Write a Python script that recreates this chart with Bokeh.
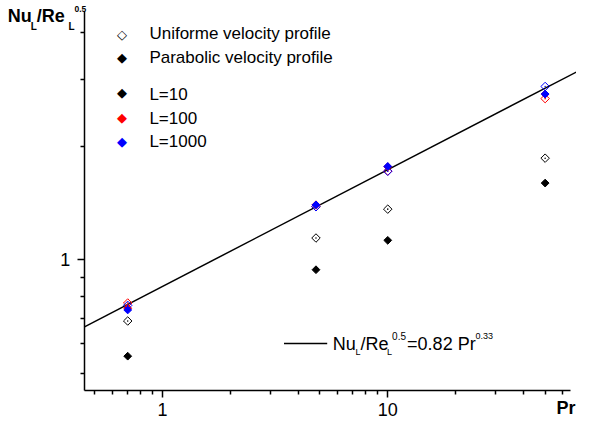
import math
import numpy as np
from bokeh.plotting import figure
from bokeh.models import Range1d, FixedTicker, Label, BoxAnnotation
from bokeh.embed import file_html
from bokeh.resources import INLINE

# ---------------- data ----------------
pr = [0.7, 4.8, 10, 50]
l10_uniform = [0.689, 1.143, 1.363, 1.86]
l10_parabolic = [0.556, 0.942, 1.127, 1.598]
l100_uniform = [0.769, 1.385, 1.72, 2.675]
l100_parabolic = [0.745, 1.40, 1.765, 2.75]
l1000_uniform = [0.758, 1.383, 1.717, 2.88]
l1000_parabolic = [0.737, 1.399, 1.769, 2.75]

fit_pr = [0.45, 75]
fit_nu = [0.665, 3.23]

x_bounds = (0.45, 64.8)
y_bounds = (0.451, 4.55)
x_major = [1, 10]
x_labels = ["1", "10"]
x_minor = [0.5, 0.6, 0.7, 0.8, 0.9, 2, 3, 4, 5, 6, 7, 8, 9, 20, 30, 40, 50, 60]
y_major = [1]
y_labels = ["1"]
y_minor = [0.5, 0.6, 0.7, 0.8, 0.9, 2, 3, 4]

legend_profiles = ["Uniforme velocity profile", "Parabolic velocity profile"]
legend_lengths = ["L=10", "L=100", "L=1000"]
legend_colors = ["black", "red", "blue"]

# ---------------- layout (canvas px) ----------------
W, H = 576, 420          # the frame covers the whole canvas
AX_L, AX_R = 84, 570     # where the x axis starts / ends
AX_T, AX_B = 11, 390     # where the y axis ends / starts
FONT = "Liberation Sans"

ppd_x = (AX_R - AX_L) / (math.log10(x_bounds[1]) - math.log10(x_bounds[0]))
ppd_y = (AX_B - AX_T) / (math.log10(y_bounds[1]) - math.log10(y_bounds[0]))
x_range = Range1d(10 ** (math.log10(x_bounds[0]) - AX_L / ppd_x),
                  10 ** (math.log10(x_bounds[1]) + (W - AX_R) / ppd_x))
y_range = Range1d(10 ** (math.log10(y_bounds[0]) - (H - AX_B) / ppd_y),
                  10 ** (math.log10(y_bounds[1]) + AX_T / ppd_y))

p = figure(x_axis_type="log", y_axis_type="log",
           x_range=x_range, y_range=y_range,
           frame_width=W, frame_height=H,
           min_border_left=0, min_border_right=0, min_border_top=0, min_border_bottom=0,
           output_backend="svg", toolbar_location=None)
p.outline_line_color = None
p.xgrid.visible = False
p.ygrid.visible = False
p.background_fill_color = "white"
p.border_fill_color = "white"

p.xaxis.ticker = FixedTicker(ticks=x_major, minor_ticks=x_minor)
p.yaxis.ticker = FixedTicker(ticks=y_major, minor_ticks=y_minor)
p.xaxis.fixed_location = y_bounds[0]
p.yaxis.fixed_location = x_bounds[0]
p.xaxis.bounds = x_bounds
p.yaxis.bounds = y_bounds
for ax in (p.xaxis[0], p.yaxis[0]):
    ax.major_tick_out = 0
    ax.major_tick_in = -7
    ax.minor_tick_out = 0
    ax.minor_tick_in = -4
    ax.axis_line_width = 1.5
    ax.major_tick_line_width = 1.5
    ax.minor_tick_line_width = 1.5
    ax.axis_line_color = "black"
    ax.major_tick_line_color = "black"
    ax.minor_tick_line_color = "black"
    ax.major_label_standoff = 0
    ax.major_label_text_font_size = "0px"
    ax.major_label_text_alpha = 0

# fit line
p.line(fit_pr, fit_nu, line_color="black", line_width=1.5)

def points(y, color, filled):
    if filled:
        p.scatter(pr, y, marker="square", angle=np.pi / 4, size=5.5,
                  fill_color=color, line_color=color, line_width=1)
    else:
        p.scatter(pr, y, marker="square_dot", angle=np.pi / 4, size=6,
                  fill_color=None, line_color=color, line_width=1)

points(l10_uniform, legend_colors[0], False)
points(l10_parabolic, legend_colors[0], True)
points(l100_uniform, legend_colors[1], False)
points(l100_parabolic, legend_colors[1], True)
points(l1000_uniform, legend_colors[2], False)
points(l1000_parabolic, legend_colors[2], True)


def lab(text, x, y, size, bold=False, font=FONT, align="left",
        baseline="middle", color="black", x_units="screen", y_units="screen"):
    sy = y if y_units == "data" else H - y
    p.add_layout(Label(x=x, y=sy, x_units=x_units, y_units=y_units,
                       text=text, text_font=font, text_font_size=f"{size}px",
                       text_font_style="bold" if bold else "normal",
                       text_align=align, text_baseline=baseline, text_color=color))

# tick labels
for v, s in zip(x_major, x_labels):
    lab(s, v, 408.5, 18, align="center", x_units="data")
for v, s in zip(y_major, y_labels):
    lab(s, AX_L - 14.3, v, 18, align="right", y_units="data")

# y axis title  Nu_L / Re_L ^0.5
tx = 7.3
lab("Nu", tx, 15.5, 18, bold=True)
lab("L", tx + 23, 25.5, 10, bold=True)
lab("/Re", tx + 29, 15.5, 18, bold=True)
lab("L", tx + 60.7, 25.5, 10, bold=True)
lab("0.5", tx + 66.7, 8.5, 8.5, bold=True)

# x axis title
lab("Pr", 575, 407, 18, bold=True, align="right")

# top legend
marker_y = [34.3, 57.2, 91.5, 117.0, 141.3]
text_y = [32.6, 56.9, 93.7, 117.7, 140.9]
lab("\u25C7", 121.5, marker_y[0], 13, font="DejaVu Sans", align="center")
lab("\u25C6", 121.5, marker_y[1], 13, font="DejaVu Sans", align="center")
for i, c in enumerate(legend_colors):
    lab("\u25C6", 121.5, marker_y[2 + i], 13, font="DejaVu Sans", align="center", color=c)
lab(legend_profiles[0], 148.9, text_y[0], 17)
lab(legend_profiles[1], 148.9, text_y[1], 17)
for i, t in enumerate(legend_lengths):
    lab(t, 148.9, text_y[2 + i], 17)

# fit legend
p.add_layout(BoxAnnotation(left=283.5, right=326.7, bottom=H - 343.7, top=H - 342.2,
                           left_units="screen", right_units="screen",
                           top_units="screen", bottom_units="screen",
                           fill_color="black", fill_alpha=1, line_color=None))
fx = 332.2
lab("Nu", fx, 343.6, 18)
lab("L", fx + 22.7, 351.2, 9)
lab("/Re", fx + 27.7, 343.6, 18)
lab("L", fx + 54.4, 351.2, 9)
lab("0.5", fx + 59.4, 335.3, 10)
lab("=0.82 Pr", fx + 74.4, 343.6, 18)
lab("0.33", fx + 142.7, 335.3, 9)

open("out.html", "w").write(file_html(p, INLINE))
